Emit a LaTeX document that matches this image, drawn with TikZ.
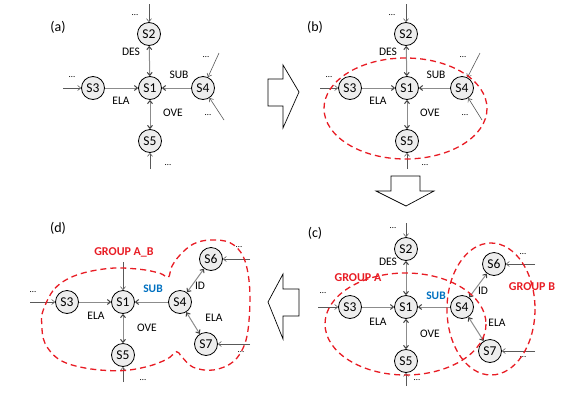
\documentclass[tikz,border=0pt]{standalone}
\usepackage{fontspec}
\setmainfont{Carlito}
\usetikzlibrary{arrows.meta}
\definecolor{grpred}{RGB}{232,28,36}
\definecolor{subblue}{RGB}{0,112,192}
\tikzset{
  st/.style={circle, draw=black, fill=black!7, line width=0.8pt, minimum size=23pt, inner sep=0pt, font=\fontsize{13.5}{13.5}\selectfont},
  con/.style={draw=black!45, line width=1pt, {Straight Barb[length=3pt,width=5pt,color=black!75]}-{Straight Barb[length=3pt,width=5pt,color=black!75]}},
  one/.style={draw=black!45, line width=1pt, -{Straight Barb[length=3pt,width=5pt,color=black!75]}},
  inc/.style={draw=black!65, line width=0.6pt, -{Straight Barb[length=3pt,width=5pt]}},
  lbl/.style={font=\fontsize{11.5}{12}\selectfont, inner sep=0pt},
  dotl/.style={font=\fontsize{9}{9}\selectfont, inner sep=0pt},
  plbl/.style={font=\fontsize{14}{14}\selectfont, inner sep=0pt},
  grp/.style={draw=grpred, line width=1.3pt, dash pattern=on 6pt off 4pt},
  grplbl/.style={font=\fontsize{12}{12}\selectfont\bfseries, text=grpred, inner sep=0pt},
  sublbl/.style={font=\fontsize{11.5}{12}\selectfont\bfseries, text=subblue, inner sep=0pt},
  bigarrow/.style={draw=black, line width=0.7pt, fill=white, line join=miter}
}
\begin{document}
\begin{tikzpicture}[x=1pt,y=-1pt]
\useasboundingbox (0,0) rectangle (573,405);

% ---------- big arrows ----------
\draw[bigarrow] (268,79) -- (283,79) -- (283,65) -- (299,92) -- (283,128) -- (283,106) -- (268,106) -- cycle;
\draw[bigarrow] (391,176) -- (420,176) -- (420,191) -- (434,191) -- (406,206) -- (376,191) -- (391,191) -- cycle;
\draw[bigarrow] (299,289) -- (283,289) -- (283,274) -- (268,302) -- (283,339) -- (283,316) -- (299,316) -- cycle;

% ---------- panel (a) ----------
\node[plbl] (la) at (58,27) {(a)};
\node[st] (a2) at (149,34) {S2};
\node[st] (a1) at (150,88) {S1};
\node[st] (a3) at (93,88) {S3};
\node[st] (a4) at (203,88) {S4};
\node[st] (a5) at (150,141) {S5};
\draw[con] (a2) -- (a1);
\draw[con] (a1) -- (a5);
\draw[one] (a3) -- (a1);
\draw[one] (a4) -- (a1);
\coordinate (ai2) at (149,4);
\coordinate (ai3) at (63,88);
\coordinate (ai4a) at (219,53);
\coordinate (ai4b) at (224,120);
\coordinate (ai5) at (150,169);
\draw[inc] (ai2) -- (a2);
\draw[inc] (ai3) -- (a3);
\draw[inc] (ai4a) -- (a4);
\draw[inc] (ai4b) -- (a4);
\draw[inc] (ai5) -- (a5);
\node[lbl] (ades) at (131,52) {DES};
\node[lbl] (asub) at (179,75) {SUB};
\node[lbl] (aela) at (121,101) {ELA};
\node[lbl] (aove) at (173,113) {OVE};
\node[dotl] (ad2) at (135,15) {…};
\node[dotl] (ad3) at (72,77) {…};
\node[dotl] (ad4a) at (206,57) {…};
\node[dotl] (ad4b) at (208,115) {…};
\node[dotl] (ad5) at (168,165) {…};

% ---------- panel (b) ----------
\begin{scope}[xshift=257pt]
\node[plbl] (lb) at (58,27) {(b)};
\node[st] (b2) at (149,34) {S2};
\node[st] (b1) at (150,88) {S1};
\node[st] (b3) at (93,88) {S3};
\node[st] (b4) at (205,88) {S4};
\node[st] (b5) at (150,141) {S5};
\draw[con] (b2) -- (b1);
\draw[con] (b1) -- (b5);
\draw[one] (b3) -- (b1);
\draw[one] (b4) -- (b1);
\coordinate (bi2) at (149,4);
\coordinate (bi3) at (63,88);
\coordinate (bi4a) at (223,53);
\coordinate (bi4b) at (225,120);
\coordinate (bi5) at (150,169);
\draw[inc] (bi2) -- (b2);
\draw[inc] (bi3) -- (b3);
\draw[inc] (bi4a) -- (b4);
\draw[inc] (bi4b) -- (b4);
\draw[inc] (bi5) -- (b5);
\node[lbl] (bdes) at (131,52) {DES};
\node[lbl] (bsub) at (179,75) {SUB};
\node[lbl] (bela) at (121,101) {ELA};
\node[lbl] (bove) at (173,113) {OVE};
\node[dotl] (bd2) at (135,15) {…};
\node[dotl] (bd3) at (72,77) {…};
\node[dotl] (bd4a) at (206,57) {…};
\node[dotl] (bd4b) at (208,115) {…};
\node[dotl] (bd5) at (168,165) {…};
\draw[grp] (148.5,108.5) ellipse (81.5 and 50.5);
\end{scope}

% ---------- panel (c) ----------
\node[plbl] (lc) at (315,233) {(c)};
\node[st] (c2) at (406,249) {S2};
\node[st] (c1) at (406,307) {S1};
\node[st] (c3) at (350,307) {S3};
\node[st] (c4) at (462,307) {S4};
\node[st] (c5) at (406,361) {S5};
\node[st] (c6) at (494,264) {S6};
\node[st] (c7) at (490,351) {S7};
\draw[con] (c2) -- (c1);
\draw[con] (c1) -- (c5);
\draw[one] (c3) -- (c1);
\draw[one] (c4) -- (c1);
\draw[con] (c4) -- (c6);
\draw[con] (c4) -- (c7);
\coordinate (ci2) at (406,223);
\coordinate (ci3) at (318,307);
\coordinate (ci5) at (406,386);
\coordinate (ci6) at (535,264);
\coordinate (ci7) at (535,351);
\draw[inc] (ci2) -- (c2);
\draw[inc] (ci3) -- (c3);
\draw[inc] (ci5) -- (c5);
\draw[inc] (ci6) -- (c6);
\draw[inc] (ci7) -- (c7);
\node[lbl] (cdes) at (388,262) {DES};
\node[sublbl] (csub) at (436,296) {SUB};
\node[lbl] (cela) at (378,322) {ELA};
\node[lbl] (cove) at (430,334) {OVE};
\node[lbl] (cid) at (483,291) {ID};
\node[lbl] (cela2) at (497,323) {ELA};
\node[dotl] (cd2) at (393,228) {…};
\node[dotl] (cd3) at (323,293) {…};
\node[dotl] (cd5) at (417,380) {…};
\node[dotl] (cd6) at (523,254) {…};
\node[dotl] (cd7) at (523,357) {…};
\node[grplbl] (cga) at (358,278) {GROUP A};
\node[grplbl] (cgb) at (532,287) {GROUP B};
\draw[grp] (405.5,324) ellipse (80.5 and 51);
\draw[grp] (491,309) ellipse (44 and 66);

% ---------- panel (d) ----------
\node[plbl] (ld) at (58,228) {(d)};
\node[st] (d1) at (123,302) {S1};
\node[st] (d3) at (67,302) {S3};
\node[st] (d4) at (180,302) {S4};
\node[st] (d5) at (123,355) {S5};
\node[st] (d6) at (211,259) {S6};
\node[st] (d7) at (206,344) {S7};
\draw[con] (d1) -- (d5);
\draw[one] (d3) -- (d1);
\draw[one] (d4) -- (d1);
\draw[con] (d4) -- (d6);
\draw[con] (d4) -- (d7);
\coordinate (di1) at (123,262);
\coordinate (di3) at (30,302);
\coordinate (di5) at (123,382);
\coordinate (di6) at (250,259);
\coordinate (di7) at (250,344);
\draw[inc] (di1) -- (d1);
\draw[inc] (di3) -- (d3);
\draw[inc] (di5) -- (d5);
\draw[inc] (di6) -- (d6);
\draw[inc] (di7) -- (d7);
\node[sublbl] (dsub) at (153,289) {SUB};
\node[lbl] (dela) at (96,316) {ELA};
\node[lbl] (dove) at (147,328) {OVE};
\node[lbl] (did) at (200,286) {ID};
\node[lbl] (dela2) at (214,318) {ELA};
\node[dotl] (dd3) at (33,292) {…};
\node[dotl] (dd5) at (143,380) {…};
\node[dotl] (dd6) at (239,247) {…};
\node[dotl] (dd7) at (241,352) {…};
\node[grplbl] (dgab) at (124,252) {GROUP A\_B};
\draw[grp] plot[smooth cycle, tension=0.6] coordinates {
 (43.3,310) (55,288.3) (76.7,275) (110,268.3) (140,269.3) (160,273.3) (168.3,277.3)
 (171.7,266.7) (180,255) (193.3,244) (210,240) (230,242.7) (243.3,256.7) (249.3,283.3)
 (249.3,316.7) (245,343.3) (233.3,361.7) (213.3,370) (193.3,367.3) (181.7,356.7) (176.7,351.7)
 (166.7,359.3) (146.7,366.7) (120,370.7) (86.7,368.3) (60,360) (45,343.3) (41.7,323.3)};
\end{tikzpicture}
\end{document}
